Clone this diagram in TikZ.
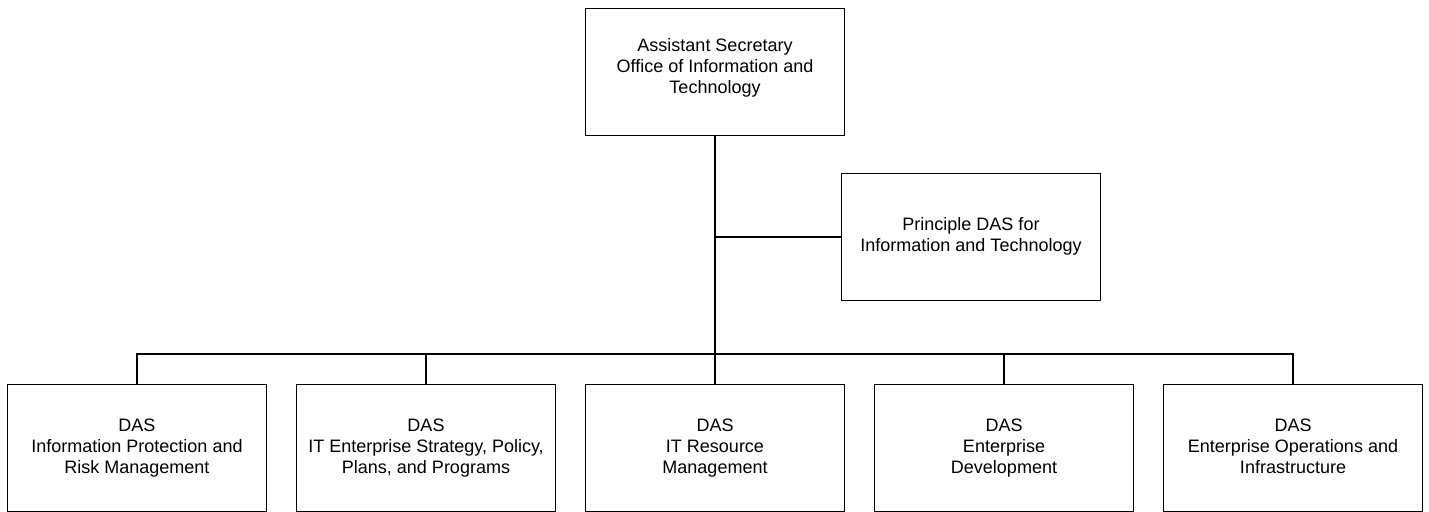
\documentclass[tikz,border=0pt]{standalone}
\usepackage{fontspec}
\setmainfont{Liberation Sans}
\usetikzlibrary{positioning}

\begin{document}
\begin{tikzpicture}[x=0.5pt,y=-0.5pt,
  office/.style={draw=black,line width=0.5pt,minimum width=129.5pt,minimum height=63.5pt,
    inner sep=0pt,outer sep=0pt,text depth=2.2pt,align=center,font=\fontsize{9}{10.5}\selectfont},
  link/.style={draw=black,line width=1pt}]
\useasboundingbox (0,0) rectangle (1429,512);
\node[office,text depth=6pt] (as) at (715,72) {Assistant Secretary\\Office of Information and\\Technology};
\node[office] (pdas) at (971,237) {Principle DAS for\\Information and Technology};
\node[office] (ipr) at (137,448) {DAS\\Information Protection and\\Risk Management};
\node[office,right=15pt of ipr] (esp) {DAS\\IT Enterprise Strategy, Policy,\\Plans, and Programs};
\node[office,right=15pt of esp] (itr) {DAS\\IT Resource\\Management};
\node[office,right=15pt of itr] (ed) {DAS\\Enterprise\\Development};
\node[office,right=15pt of ed] (eoi) {DAS\\Enterprise Operations and\\Infrastructure};
\coordinate (bus) at (715,354);
\draw[link] (as.south) -- (itr.north);
\draw[link] (pdas.west) -- (pdas.west -| as.south);
\draw[link] (ipr.north) |- (bus) -| (eoi.north);
\draw[link] (esp.north) -- (esp.north |- bus);
\draw[link] (ed.north) -- (ed.north |- bus);
\end{tikzpicture}
\end{document}
